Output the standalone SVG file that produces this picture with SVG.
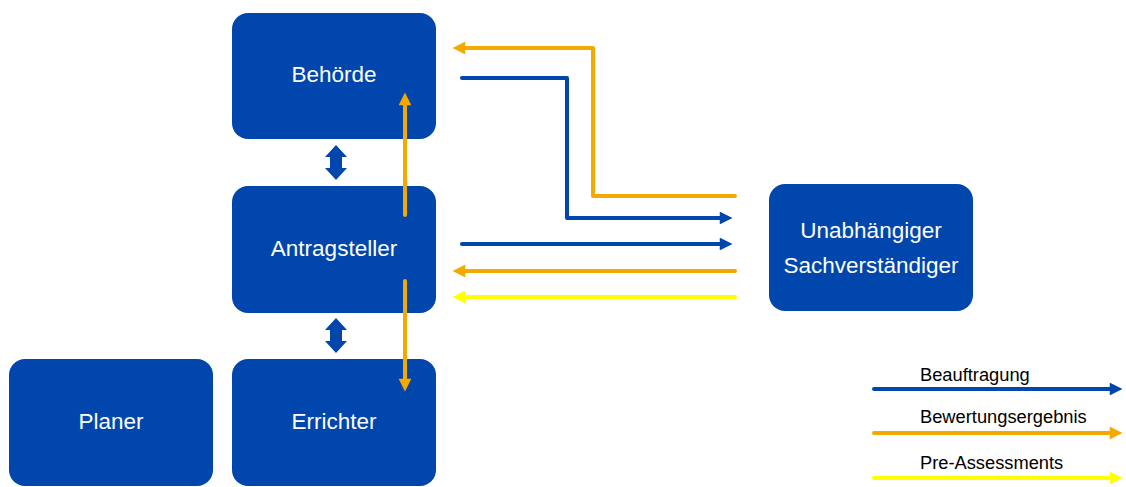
<svg xmlns="http://www.w3.org/2000/svg" width="1126" height="487" viewBox="0 0 1126 487">
  <style>
    .box { fill: #0046AD; }
    .label { fill: #ffffff; font-family: "Liberation Sans", Arial, sans-serif; font-size: 22.5px; text-anchor: middle; }
    .legend { fill: #000000; font-family: "Liberation Sans", Arial, sans-serif; font-size: 18.3px; }
    .line { fill: none; stroke-width: 4; stroke-linecap: round; stroke-linejoin: round; }
    .blue { stroke: #0046AD; }
    .orange { stroke: #F4A900; }
    .yellow { stroke: #FFFF00; }
  </style>
  <defs>
    <marker id="arrBlue" viewBox="0 0 10 10" refX="1" refY="5" markerWidth="3.6" markerHeight="3.2" orient="auto" markerUnits="strokeWidth">
      <path d="M0,0 L10,5 L0,10 z" fill="#0046AD"/>
    </marker>
    <marker id="arrOrange" viewBox="0 0 10 10" refX="1" refY="5" markerWidth="3.6" markerHeight="3.2" orient="auto" markerUnits="strokeWidth">
      <path d="M0,0 L10,5 L0,10 z" fill="#F4A900"/>
    </marker>
    <marker id="arrYellow" viewBox="0 0 10 10" refX="1" refY="5" markerWidth="3.6" markerHeight="3.2" orient="auto" markerUnits="strokeWidth">
      <path d="M0,0 L10,5 L0,10 z" fill="#FFFF00"/>
    </marker>
  </defs>

  <!-- nodes -->
  <g id="behoerde">
    <rect class="box" x="232" y="13" width="204" height="126" rx="16"/>
    <text class="label" x="334" y="82">Behörde</text>
  </g>
  <g id="antragsteller">
    <rect class="box" x="232" y="186" width="204" height="127" rx="16"/>
    <text class="label" x="334" y="256">Antragsteller</text>
  </g>
  <g id="planer">
    <rect class="box" x="9" y="359" width="204" height="127" rx="16"/>
    <text class="label" x="111" y="429">Planer</text>
  </g>
  <g id="errichter">
    <rect class="box" x="232" y="359" width="204" height="127" rx="16"/>
    <text class="label" x="334" y="429">Errichter</text>
  </g>
  <g id="sachverstaendiger">
    <rect class="box" x="769" y="184" width="204" height="127" rx="16"/>
    <text class="label" x="871" y="238">Unabhängiger</text>
    <text class="label" x="871" y="273">Sachverständiger</text>
  </g>

  <!-- connectors -->
  <g id="connectors">
    <!-- double arrows between stacked boxes -->
    <path d="M336,145 L347,157 L342,157 L342,168 L347,168 L336,180 L325,168 L330,168 L330,157 L325,157 Z" fill="#0046AD"/>
    <path d="M336,318 L347,330 L342,330 L342,341 L347,341 L336,353 L325,341 L330,341 L330,330 L325,330 Z" fill="#0046AD"/>

    <!-- vertical results inside the stack -->
    <path class="line orange" d="M405,215 L405,104" marker-end="url(#arrOrange)"/>
    <path class="line orange" d="M405,281 L405,380" marker-end="url(#arrOrange)"/>

    <!-- exchange with the expert -->
    <path class="line orange" d="M735,196 L593,196 L593,48 L464,48" marker-end="url(#arrOrange)"/>
    <path class="line blue" d="M462,78 L567,78 L567,218 L721,218" marker-end="url(#arrBlue)"/>
    <path class="line blue" d="M462,244 L721,244" marker-end="url(#arrBlue)"/>
    <path class="line orange" d="M735,271 L464,271" marker-end="url(#arrOrange)"/>
    <path class="line yellow" d="M735,297 L464,297" marker-end="url(#arrYellow)"/>
  </g>

  <!-- legend -->
  <g id="legend">
    <path class="line blue" d="M874,389 L1111,389" marker-end="url(#arrBlue)"/>
    <text class="legend" x="920" y="381">Beauftragung</text>
    <path class="line orange" d="M874,433 L1111,433" marker-end="url(#arrOrange)"/>
    <text class="legend" x="920" y="423">Bewertungsergebnis</text>
    <path class="line yellow" d="M874,478 L1111,478" marker-end="url(#arrYellow)"/>
    <text class="legend" x="920" y="469">Pre-Assessments</text>
  </g>
</svg>
